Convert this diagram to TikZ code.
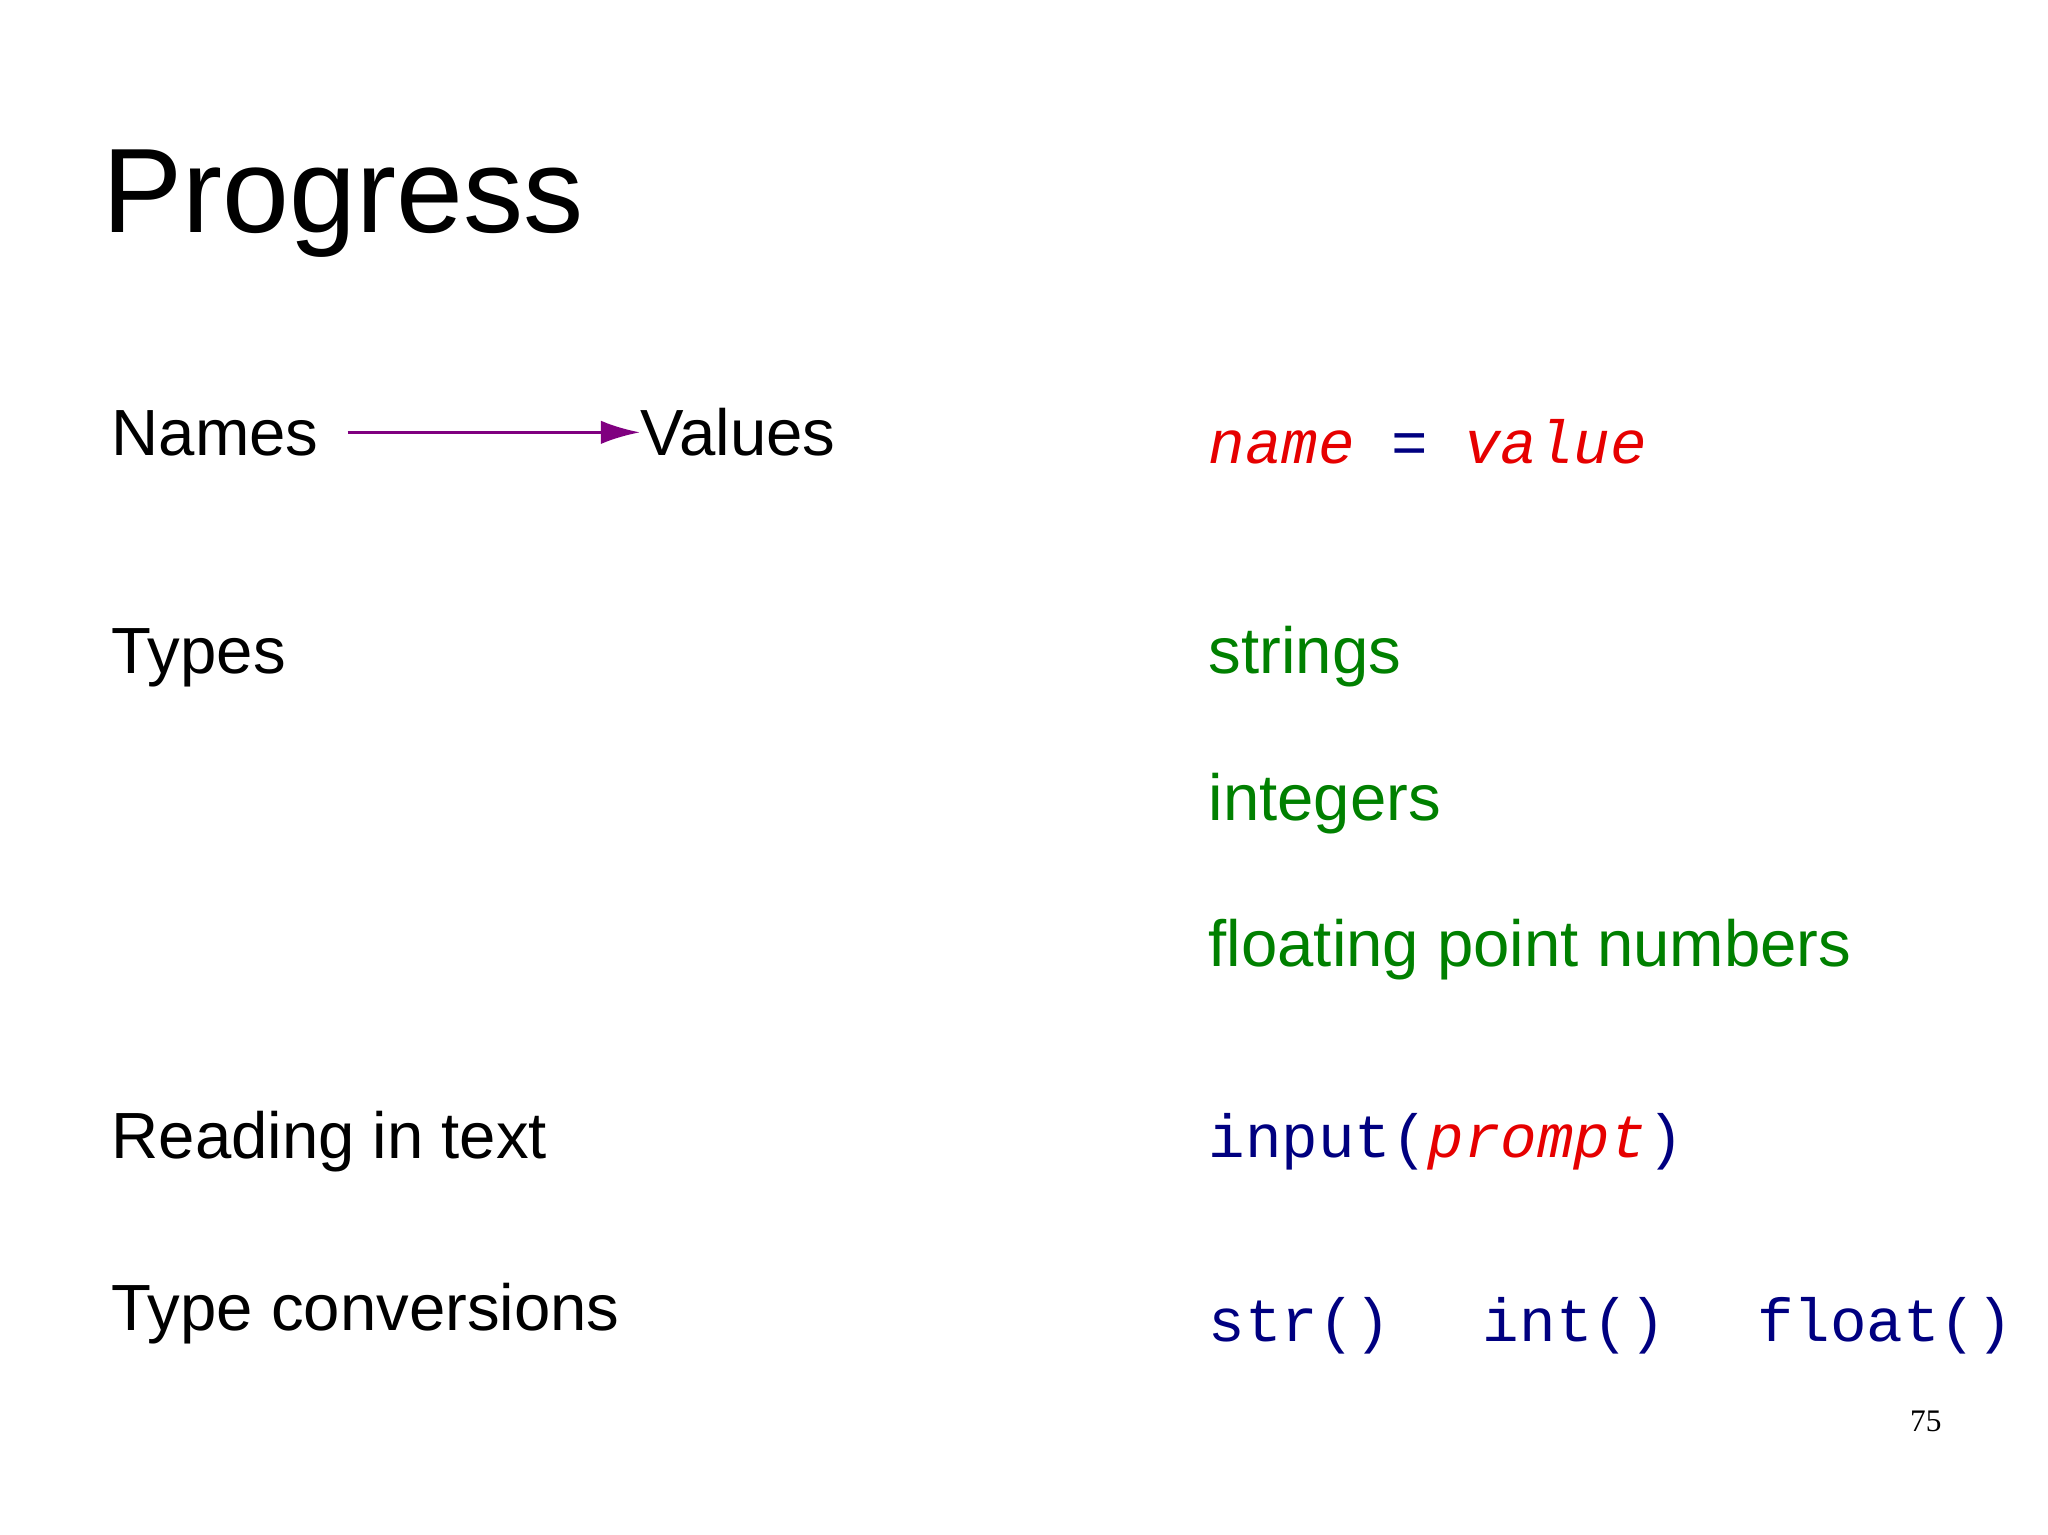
\documentclass[tikz,border=0pt]{standalone}
\usepackage{fontspec}
\setmainfont{Liberation Sans}
\newfontfamily\monof{Liberation Mono}
\newfontfamily\serf{Liberation Serif}
\usetikzlibrary{arrows.meta}
\definecolor{cred}{RGB}{230,0,0}
\definecolor{cgreen}{RGB}{0,128,0}
\definecolor{cnavy}{RGB}{0,0,128}
\definecolor{cpurple}{RGB}{128,0,128}
\begin{document}
\begin{tikzpicture}[x=0.5pt,y=-0.5pt,
  lab/.style={anchor=base west,inner sep=0pt,font=\fontsize{25}{30}\selectfont},
  code/.style={anchor=base west,inner sep=0pt,font=\monof\fontsize{23.3}{28}\selectfont,text=cnavy}]
\useasboundingbox (0,0) rectangle (1568,1175);
\node[anchor=base west,inner sep=0pt,font=\fontsize{46}{52}\selectfont] (title) at (78,178) {Progress};
\node[lab] (names) at (85,349) {Names};
\node[lab] (values) at (490,349) {Values};
\draw[cpurple,line width=1.2pt,-{Latex[length=15pt,width=9pt]}] (names.east |- 0,331) ++(22,0) coordinate (a) -- (values.west |- 0,331) coordinate (b);
\node[code] (nv) at (925,355) {\textcolor{cred}{\itshape name} = \textcolor{cred}{\itshape value}};
\node[lab] (types) at (85,516) {Types};
\node[lab,text=cgreen] (s) at (925,516) {strings};
\node[lab,text=cgreen] (i) at (925,628) {integers};
\node[lab,text=cgreen] (f) at (925,740) {floating point numbers};
\node[lab] (read) at (85,887) {Reading in text};
\node[code] (inp) at (925,886) {input(\textcolor{cred}{\itshape prompt})};
\node[lab] (conv) at (85,1019) {Type conversions};
\node[code] (str) at (925,1027) {str()};
\node[code] (int) at (1135,1027) {int()};
\node[code] (flt) at (1345,1027) {float()};
\node[anchor=base west,inner sep=0pt,font=\serf\fontsize{12}{14}\selectfont] (pg) at (1462,1096) {75};
\end{tikzpicture}
\end{document}
